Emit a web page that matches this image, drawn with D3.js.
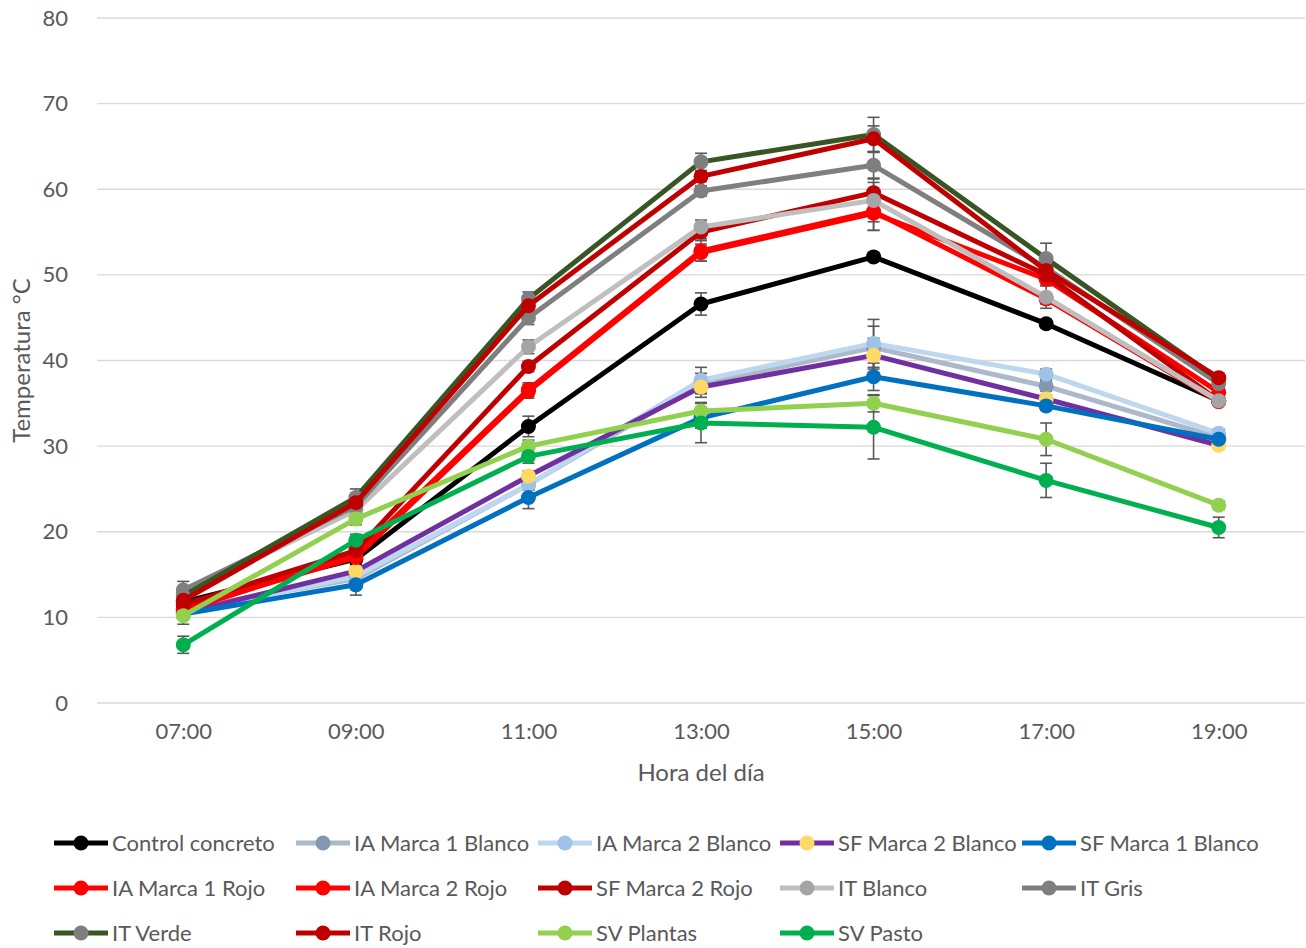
<!DOCTYPE html>
<meta charset="utf-8">
<style>
    body { margin: 0; background: #fff; }
    svg text { font-family: Lato, "Open Sans", sans-serif; fill: #595959; }
    .grid line { stroke: #d9d9d9; stroke-width: 1.3; }
    .line { fill: none; stroke-width: 5; stroke-linejoin: round; stroke-linecap: round; }
    .err { stroke: #595959; stroke-width: 1.6; }
</style>
<svg width="1306" height="948"></svg>
<script src="https://d3js.org/d3.v7.min.js"></script>
<script>

    // horas del dia (eje x)
    var hours = ["07:00", "09:00", "11:00", "13:00", "15:00", "17:00", "19:00"];
    var yTicks = [0, 10, 20, 30, 40, 50, 60, 70, 80];

    // nombres de las series, en el orden de la leyenda
    var names = ["Control concreto", "IA Marca 1 Blanco", "IA Marca 2 Blanco", "SF Marca 2 Blanco",
        "SF Marca 1 Blanco", "IA Marca 1 Rojo", "IA Marca 2 Rojo", "SF Marca 2 Rojo",
        "IT Blanco", "IT Gris", "IT Verde", "IT Rojo", "SV Plantas", "SV Pasto"];

    // temperatura media por serie
    var controlConcreto = [11.8, 16.8, 32.3, 46.6, 52.1, 44.3, 35.3];
    var iaM1Blanco = [11.0, 14.5, 25.5, 37.3, 41.5, 37.0, 31.0];
    var iaM2Blanco = [10.6, 14.8, 25.5, 37.7, 42.0, 38.4, 31.5];
    var sfM2Blanco = [10.5, 15.4, 26.5, 36.9, 40.6, 35.5, 30.1];
    var sfM1Blanco = [10.4, 13.8, 24.0, 33.3, 38.1, 34.7, 30.8];
    var iaM1Rojo = [11.0, 17.0, 36.4, 52.6, 57.2, 49.5, 36.3];
    var iaM2Rojo = [10.8, 17.3, 36.6, 52.8, 57.4, 47.2, 35.2];
    var sfM2Rojo = [11.5, 17.8, 39.3, 55.0, 59.6, 50.0, 35.3];
    var itBlanco = [12.8, 22.5, 41.6, 55.6, 58.7, 47.4, 35.3];
    var itGris = [13.2, 23.0, 45.0, 59.8, 62.8, 50.8, 37.3];
    var itVerde = [12.5, 24.0, 47.2, 63.2, 66.4, 51.9, 37.8];
    var itRojo = [12.0, 23.4, 46.4, 61.5, 65.9, 50.5, 38.0];
    var svPlantas = [10.2, 21.5, 30.0, 34.1, 35.0, 30.8, 23.1];
    var svPasto = [6.8, 19.0, 28.8, 32.7, 32.2, 26.0, 20.5];

    // desviacion (barras de error)
    var errControl = [0.5, 0.6, 1.2, 1.3, 0.5, 0.5, 0.3];
    var errIaM1Blanco = [0.4, 0.5, 0.6, 1.2, 2.5, 0.6, 0.4];
    var errIaM2Blanco = [0.4, 0.5, 0.6, 1.5, 2.8, 0.6, 0.5];
    var errSfM2Blanco = [0.4, 0.6, 0.6, 1.2, 2.0, 0.5, 0.4];
    var errSfM1Blanco = [0.4, 1.2, 1.3, 1.2, 1.6, 0.5, 0.5];
    var errIaM1Rojo = [0.5, 0.5, 0.8, 1.0, 2.0, 0.7, 0.4];
    var errIaM2Rojo = [0.5, 0.5, 0.8, 1.2, 2.2, 0.6, 0.4];
    var errSfM2Rojo = [0.5, 0.5, 0.6, 0.8, 1.2, 0.6, 0.4];
    var errItBlanco = [0.8, 0.8, 0.8, 0.8, 2.5, 1.3, 0.5];
    var errItGris = [1.0, 1.0, 0.8, 0.6, 1.5, 1.0, 0.5];
    var errItVerde = [0.8, 1.0, 0.8, 1.0, 2.0, 1.8, 0.5];
    var errItRojo = [0.5, 0.8, 0.6, 0.6, 1.5, 0.6, 0.4];
    var errSvPlantas = [1.0, 0.7, 0.7, 1.0, 1.0, 1.9, 0.5];
    var errSvPasto = [1.0, 0.7, 0.8, 2.3, 3.7, 2.0, 1.2];

    var lineColors = ["#000000", "#adb9ca", "#bdd7ee", "#7030a0", "#0070c0", "#ff0000", "#ff0000",
        "#c00000", "#bfbfbf", "#7f7f7f", "#375623", "#c00000", "#92d050", "#00b050"];
    var markerColors = ["#000000", "#8497b0", "#9dc3e6", "#ffd966", "#0070c0", "#ff0000", "#ff0000",
        "#c00000", "#a5a5a5", "#7f7f7f", "#7f7f7f", "#c00000", "#92d050", "#00b050"];

    var values = [controlConcreto, iaM1Blanco, iaM2Blanco, sfM2Blanco, sfM1Blanco, iaM1Rojo, iaM2Rojo,
        sfM2Rojo, itBlanco, itGris, itVerde, itRojo, svPlantas, svPasto];
    var errors = [errControl, errIaM1Blanco, errIaM2Blanco, errSfM2Blanco, errSfM1Blanco, errIaM1Rojo,
        errIaM2Rojo, errSfM2Rojo, errItBlanco, errItGris, errItVerde, errItRojo, errSvPlantas, errSvPasto];

    var series = names.map(function (n, i) {
        return { name: n, values: values[i], err: errors[i], line: lineColors[i], marker: markerColors[i] };
    });

    // note: "top" is taken by window.top, so plot edges get their own names
    var svg = d3.select("svg"),
        plotLeft = 97, plotRight = 1305, plotTop = 18, plotBottom = 703;

    var x = d3.scalePoint()
        .domain(hours)
        .range([plotLeft, plotRight])
        .padding(0.5);

    var y = d3.scaleLinear()
        .domain([0, 80])
        .range([plotBottom, plotTop]);

    // grid lines
    svg.append("g")
        .attr("class", "grid")
        .selectAll("line")
        .data(yTicks)
        .join("line")
        .attr("x1", plotLeft)
        .attr("x2", plotRight)
        .attr("y1", function (d) { return y(d); })
        .attr("y2", function (d) { return y(d); });

    // y axis labels
    var yAxis = svg.append("g")
        .attr("transform", "translate(" + plotLeft + ",0)")
        .call(d3.axisLeft(y).tickValues(yTicks).tickSize(0).tickPadding(29));
    yAxis.select(".domain").remove();
    yAxis.selectAll("text").style("font-size", "22px").attr("fill", "#595959");

    // x axis labels
    var xAxis = svg.append("g")
        .attr("transform", "translate(0," + plotBottom + ")")
        .call(d3.axisBottom(x).tickSize(0).tickPadding(20));
    xAxis.select(".domain").remove();
    xAxis.selectAll("text").style("font-size", "22px").attr("fill", "#595959");

    // axis titles
    svg.append("text")
        .attr("x", (plotLeft + plotRight) / 2)
        .attr("y", 781)
        .attr("text-anchor", "middle")
        .style("font-size", "24px")
        .text("Hora del día");

    svg.append("text")
        .attr("transform", "translate(30," + ((plotTop + plotBottom) / 2) + ") rotate(-90)")
        .attr("text-anchor", "middle")
        .style("font-size", "24px")
        .text("Temperatura °C");

    // error bars
    var errG = svg.append("g");
    series.forEach(function (s) {
        s.values.forEach(function (v, i) {
            var cx = x(hours[i]), y1 = y(v - s.err[i]), y2 = y(v + s.err[i]);
            errG.append("line").attr("class", "err")
                .attr("x1", cx).attr("x2", cx).attr("y1", y1).attr("y2", y2);
            errG.append("line").attr("class", "err")
                .attr("x1", cx - 6).attr("x2", cx + 6).attr("y1", y1).attr("y2", y1);
            errG.append("line").attr("class", "err")
                .attr("x1", cx - 6).attr("x2", cx + 6).attr("y1", y2).attr("y2", y2);
        });
    });

    var line = d3.line()
        .x(function (d, i) { return x(hours[i]); })
        .y(function (d) { return y(d); });

    // lines and markers, one group per series
    var sg = svg.append("g")
        .selectAll("g")
        .data(series)
        .join("g");

    sg.append("path")
        .attr("class", "line")
        .attr("stroke", function (d) { return d.line; })
        .attr("d", function (d) { return line(d.values); });

    sg.selectAll("circle")
        .data(function (d) { return d.values.map(function (v, i) { return { v: v, i: i, c: d.marker }; }); })
        .join("circle")
        .attr("cx", function (d) { return x(hours[d.i]); })
        .attr("cy", function (d) { return y(d.v); })
        .attr("r", 7.5)
        .attr("fill", function (d) { return d.c; });

    // legend
    var legend = svg.append("g")
        .selectAll("g")
        .data(series)
        .join("g")
        .attr("transform", function (d, i) {
            return "translate(" + (54 + (i % 5) * 242) + "," + (843 + Math.floor(i / 5) * 45) + ")";
        });

    legend.append("line")
        .attr("x1", 0).attr("x2", 54)
        .attr("stroke", function (d) { return d.line; })
        .attr("stroke-width", 5);

    legend.append("circle")
        .attr("cx", 27)
        .attr("r", 7.5)
        .attr("fill", function (d) { return d.marker; });

    legend.append("text")
        .attr("x", 58)
        .attr("dy", "0.35em")
        .style("font-size", "22px")
        .text(function (d) { return d.name; });

</script>
